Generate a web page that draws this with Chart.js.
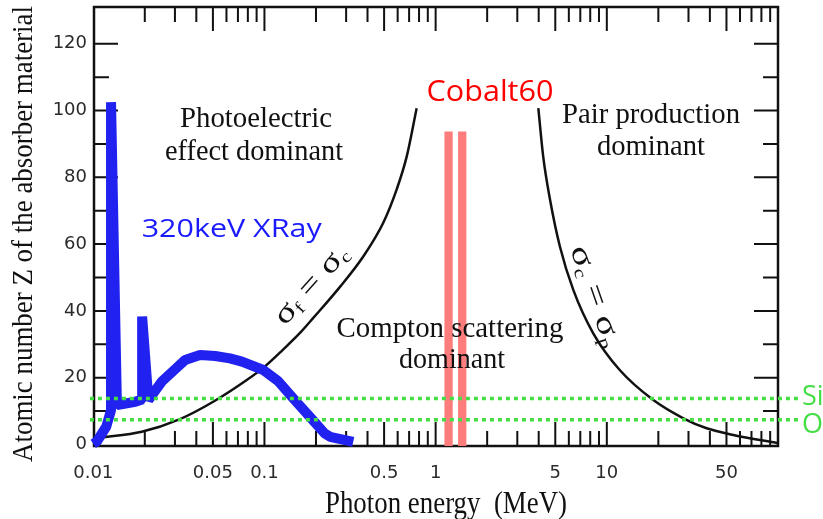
<!DOCTYPE html>
<html>
<head>
<meta charset="utf-8">
<script src="https://cdn.jsdelivr.net/npm/chart.js@4.4.1/dist/chart.umd.min.js"></script>
<style>
  html, body { margin: 0; padding: 0; background: #fff; }
  #wrap { width: 823px; height: 519px; position: relative; }
</style>
</head>
<body>
<div id="wrap"><canvas id="zChart"></canvas></div>
<script>
// axis ticks
const xTickValues = [0.01, 0.05, 0.1, 0.5, 1, 5, 10, 50];
const xTickLabels = ["0.01", "0.05", "0.1", "0.5", "1", "5", "10", "50"];
const yTickValues = [0, 20, 40, 60, 80, 100, 120];

// boundary sigma_f = sigma_c (photoelectric / compton)
const photoComptonE = [0.0109, 0.0192, 0.0321, 0.0502, 0.0788, 0.1007, 0.1289, 0.1613, 0.1929, 0.2762, 0.3778, 0.4945, 0.5923, 0.6775, 0.7747];
const photoComptonZ = [2.0, 3.8, 7.6, 12.8, 19.3, 23.4, 28.5, 33.4, 37.9, 47.2, 56.3, 66.4, 76.4, 86.2, 100.7];

// boundary sigma_c = sigma_p (compton / pair)
const comptonPairE = [3.98, 4.25, 4.66, 5.32, 6.37, 8.33, 11.9, 18.7, 28.0, 38.3, 54.8, 100];
const comptonPairZ = [100.7, 86.2, 73.3, 59.3, 46.3, 33.3, 22.3, 13.3, 7.85, 4.85, 2.85, 0.4];

// 320 keV x-ray spectrum outline
const xrayE = [0.0100, 0.0105, 0.0119, 0.0127, 0.0127, 0.01375, 0.0176, 0.0193, 0.0193, 0.0210, 0.0251, 0.0300, 0.0344, 0.0420, 0.0516, 0.0629, 0.0739, 0.0985, 0.1200, 0.1480, 0.1900, 0.2250, 0.2420, 0.3300];
const xrayZ = [0.2, 0.9, 5.3, 10.3, 102.5, 11.8, 12.8, 13.5, 38.3, 13.3, 18.8, 22.5, 25.3, 26.8, 26.5, 25.8, 24.8, 22.3, 19.0, 13.7, 7.5, 3.3, 2.3, 0.8];

// cobalt-60 lines
const cobaltE = [1.19, 1.43];
const cobaltZ = [-0.45, 93.7];

// Si and O reference levels
const guideE = [0.00956, 134];
const siZ = 13.8;
const oZ = 7.4;

const pts = (es, zs) => es.map((e, i) => ({ x: e, y: zs[i] }));
const flat = (es, z) => es.map(e => ({ x: e, y: z }));

const serif = '"Liberation Serif", "Times New Roman", serif';
const sans = '"Open Sans", sans-serif';
const green = "#44dd44";

// text squeezed/stretched to a given width
function label(ctx, s, font, color, x, y, w, rot, align) {
  ctx.save();
  ctx.font = font;
  ctx.fillStyle = color;
  ctx.textAlign = align || "center";
  ctx.textBaseline = "alphabetic";
  ctx.translate(x, y);
  if (rot) ctx.rotate(rot * Math.PI / 180);
  if (w) ctx.scale(w / ctx.measureText(s).width, 1);
  ctx.fillText(s, 0, 0);
  ctx.restore();
}

// sigma labels with subscripts, baseline centred on x,y
function sigmaLabel(ctx, parts, x, y, w, rot) {
  ctx.save();
  ctx.fillStyle = "#111";
  ctx.textBaseline = "alphabetic";
  ctx.textAlign = "left";
  const big = "30px " + serif, small = "17px " + serif;
  let total = 0;
  const widths = parts.map(([t, sub]) => {
    ctx.font = sub ? small : big;
    const m = ctx.measureText(t).width;
    total += m;
    return m;
  });
  ctx.translate(x, y);
  ctx.rotate(rot * Math.PI / 180);
  ctx.scale(w / total, 1);
  let cx = -total / 2;
  parts.forEach(([t, sub], i) => {
    ctx.font = sub ? small : big;
    ctx.fillText(t, cx, sub ? 4 : 0);
    cx += widths[i];
  });
  ctx.restore();
}

const frame = {
  id: "frame",
  beforeDatasetsDraw(chart) {
    const { ctx, chartArea: a, scales: { x, y } } = chart;
    ctx.save();
    ctx.strokeStyle = "#111";
    ctx.lineWidth = 2;
    ctx.beginPath();
    for (let k = -2; k < 2; k++) {
      for (let m = 1; m < 10; m++) {
        const v = m * Math.pow(10, k);
        if (v < x.min || v > x.max) continue;
        const px = x.getPixelForValue(v);
        const len = (m === 1 || m === 5) ? 24 : 15;
        ctx.moveTo(px, a.bottom); ctx.lineTo(px, a.bottom - len);
        ctx.moveTo(px, a.top); ctx.lineTo(px, a.top + len);
      }
    }
    for (let v = 10; v <= 120; v += 10) {
      const py = y.getPixelForValue(v);
      const len = v % 20 === 0 ? 24 : 15;
      ctx.moveTo(a.left, py); ctx.lineTo(a.left + len, py);
      ctx.moveTo(a.right, py); ctx.lineTo(a.right - len, py);
    }
    ctx.stroke();
    ctx.lineWidth = 2.5;
    ctx.strokeRect(a.left, a.top, a.right - a.left, a.bottom - a.top);
    ctx.restore();
  },
  afterDraw(chart) {
    const ctx = chart.ctx;
    const f30 = "29px " + serif;
    label(ctx, "Photoelectric", f30, "#111", 256, 127, 152);
    label(ctx, "effect dominant", f30, "#111", 254, 160, 178);
    label(ctx, "Pair production", f30, "#111", 651, 122.7, 178);
    label(ctx, "dominant", f30, "#111", 651, 155.3, 108);
    label(ctx, "Compton scattering", f30, "#111", 450, 337.3, 227);
    label(ctx, "dominant", f30, "#111", 452, 368.3, 106);
    label(ctx, "Photon energy  (MeV)", "31px " + serif, "#111", 446, 512.7, 242);
    label(ctx, "Atomic number Z of the absorber material", "29px " + serif, "#111", 32, 234, 456, -90);

    label(ctx, "Cobalt60", "29px " + sans, "#ff0000", 490, 100.7, 127);
    label(ctx, "320keV XRay", "25px " + sans, "#1a1aff", 141.7, 236.7, 180, 0, "left");
    label(ctx, "Si", "27px " + sans, green, 802, 405, 0, 0, "left");
    label(ctx, "O", "27px " + sans, green, 802, 433.3, 0, 0, "left");

    sigmaLabel(ctx, [["σ"], ["f", 1], [" = "], ["σ"], ["c", 1]], 317.5, 290.5, 97, -48);
    sigmaLabel(ctx, [["σ"], ["c", 1], [" = "], ["σ"], ["p", 1]], 587.6, 298.9, 106, 70.7);
  }
};

new Chart(document.getElementById("zChart").getContext("2d"), {
  type: "line",
  data: {
    datasets: [
      { data: flat(guideE, siZ), borderColor: green, borderWidth: 3.5, borderDash: [4, 4], clip: false },
      { data: flat(guideE, oZ), borderColor: green, borderWidth: 3.5, borderDash: [4, 4], clip: false },
      { data: pts(xrayE, xrayZ), borderColor: "#2222f0", borderWidth: 10, borderJoinStyle: "bevel", borderCapStyle: "butt", clip: false },
      { data: cobaltZ.map(z => ({ x: cobaltE[0], y: z })), borderColor: "#ff7c7c", borderWidth: 8.3 },
      { data: cobaltZ.map(z => ({ x: cobaltE[1], y: z })), borderColor: "#ff7c7c", borderWidth: 8.3 },
      { data: pts(photoComptonE, photoComptonZ), borderColor: "#111", borderWidth: 2.5, cubicInterpolationMode: "monotone" },
      { data: pts(comptonPairE, comptonPairZ), borderColor: "#111", borderWidth: 2.5, cubicInterpolationMode: "monotone" }
    ]
  },
  options: {
    responsive: true,
    maintainAspectRatio: false,
    animation: false,
    layout: { padding: { top: 7, right: 45, bottom: 0, left: 0 } },
    elements: { point: { radius: 0 } },
    plugins: {
      legend: { display: false },
      tooltip: { enabled: false }
    },
    scales: {
      x: {
        type: "logarithmic",
        min: 0.0101,
        max: 100,
        afterBuildTicks: s => { s.ticks = xTickValues.map(v => ({ value: v })); },
        afterFit: s => { s.height = 73; s.paddingLeft = 0; s.paddingRight = 0; },
        grid: { display: false, drawTicks: false },
        border: { display: false },
        ticks: {
          autoSkip: false, maxRotation: 0, padding: 17, color: "#2a2a2a",
          font: { family: "DejaVu Sans", size: 18 },
          callback: (v, i) => xTickLabels[i]
        }
      },
      y: {
        min: -0.45,
        max: 131,
        afterBuildTicks: s => { s.ticks = yTickValues.map(v => ({ value: v })); },
        afterFit: s => { s.width = 94; s.paddingTop = 0; s.paddingBottom = 0; },
        grid: { display: false, drawTicks: false },
        border: { display: false },
        ticks: {
          padding: 7, color: "#2a2a2a",
          font: { family: "DejaVu Sans", size: 18 },
          callback: v => String(v)
        }
      }
    }
  },
  plugins: [frame]
});
</script>
</body>
</html>
